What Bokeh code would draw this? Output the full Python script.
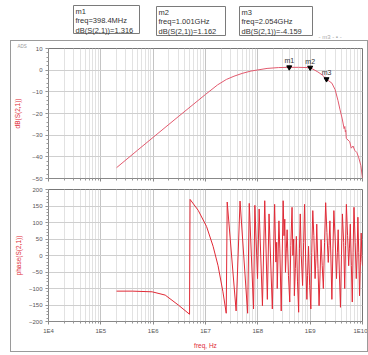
from bokeh.plotting import figure
from bokeh.layouts import column
from bokeh.models import FixedTicker, CustomJSTickFormatter
from bokeh.embed import file_html
from bokeh.resources import INLINE
from bokeh.core.properties import value

# ---- data ----
mag_freq = [2e5, 5e5, 1e6, 3e6, 1e7, 1.7e7, 2.5e7, 3.5e7, 5e7, 7.4e7, 1.5e8, 2.5e8,
            3.984e8, 6e8, 1.001e9, 1.4e9, 1.7e9, 2.054e9, 2.6e9, 3.0e9, 3.4e9, 3.7e9,
            4.1e9, 4.45e9, 4.6e9, 4.7e9, 4.8e9, 4.9e9, 5.7e9, 6.1e9, 6.6e9, 7.1e9,
            7.8e9, 8.5e9, 9.3e9, 1e10]
mag_db = [-45, -37, -31, -21.5, -11.2, -6.8, -4.3, -2.8, -1.5, -0.4, 0.8, 1.2,
          1.316, 1.3, 1.162, -0.8, -2.2, -4.159, -6, -9, -14, -18,
          -22.5, -27, -26, -28.5, -27.8, -31.5, -33, -36, -35, -37,
          -38, -40.5, -44, -50]

phase_exp = [5.30, 5.60, 5.98, 6.23, 6.48, 6.695, 6.705, 6.86, 7.02, 7.145,
             7.24, 7.333, 7.396, 7.415, 7.585, 7.660, 7.805, 7.836, 7.918, 7.943,
             7.994, 8.025, 8.088, 8.132, 8.182, 8.214, 8.277, 8.321, 8.345, 8.360,
             8.371, 8.403, 8.420, 8.447, 8.484, 8.500, 8.515, 8.528, 8.545, 8.560,
             8.585, 8.610, 8.630, 8.654, 8.670, 8.685, 8.698, 8.717, 8.736, 8.758,
             8.780, 8.795, 8.811, 8.830, 8.855, 8.875, 8.893, 8.915, 8.937, 8.950,
             8.969, 8.990, 9.013, 9.030, 9.050, 9.070, 9.094, 9.110, 9.126, 9.150,
             9.170, 9.190, 9.208, 9.230, 9.252, 9.275, 9.296, 9.320, 9.346, 9.360,
             9.377, 9.395, 9.415, 9.435, 9.453, 9.478, 9.503, 9.520, 9.535, 9.557,
             9.579, 9.598, 9.616, 9.640, 9.660, 9.676, 9.692, 9.715, 9.736, 9.750,
             9.767, 9.787, 9.805, 9.820, 9.837, 9.860, 9.881, 9.896, 9.912, 9.928,
             9.943, 9.960, 9.975, 9.990, 10.0]
phase_deg = [-108, -108, -110, -120, -150, -178, 170, 137, 88, 28,
             -31, -110, -175, 162, -168, 165, -175, 158, -162, 152,
             -70, 141, -152, 166, -133, 126, -162, 155, -20, 40,
             -100, 105, 20, -168, 166, 60, 110, -51, 20, 78,
             -60, -141, 30, 146, 0, 50, -122, -40, 58, -80,
             -172, 20, 126, 0, -91, 40, 155, -20, -133, -60,
             28, -90, -162, 10, 136, 60, -70, -10, 95, -40,
             -152, -50, 48, -30, -100, 40, 160, 70, -21, 30,
             105, 0, -133, 20, 136, 50, -70, 10, 78, -50,
             -157, 0, 126, 40, -100, 30, 155, 60, -31, 20,
             95, -30, -141, 10, 146, 40, -70, 0, 116, 10,
             -122, -20, 68, -10, -31]
phase_freq = [10 ** e for e in phase_exp]

marker_names = ["m1", "m2", "m3"]
marker_freq = [3.984e8, 1.001e9, 2.054e9]
marker_freq_text = ["398.4MHz", "1.001GHz", "2.054GHz"]
marker_db = [1.316, 1.162, -4.159]

db_ticks = [-50, -40, -30, -20, -10, 0, 10]
phase_ticks = [-200, -150, -100, -50, 0, 50, 100, 150, 200]

FONT = "Liberation Sans"
GRAY_TXT = "#555555"
RED = "#e02a36"

# log ticks
decades = [10 ** k for k in range(4, 11)]
minor = [m * 10 ** k for k in range(4, 10) for m in range(2, 10)]
fmt = CustomJSTickFormatter(code="return '1E' + Math.round(Math.log10(tick));")
blank = CustomJSTickFormatter(code="return '';")

# ---- header with marker readouts ----
hdr = figure(width=368, height=40, x_range=(0, 368), y_range=(40, 0),
             toolbar_location=None, output_backend="svg", min_border=0)
hdr.axis.visible = False
hdr.grid.visible = False
hdr.outline_line_color = None
box_left = [73, 156, 239]
box_w = [66, 69, 73]
box_top = [5, 6, 6]
hdr.quad(left=box_left, right=[l + w for l, w in zip(box_left, box_w)],
         top=box_top, bottom=[33, 35, 35], fill_color="white",
         line_color="#7a7a7a", line_width=1)
lines_x, lines_y, lines_t = [], [], []
for i, n in enumerate(marker_names):
    for j, t in enumerate([n, "freq=" + marker_freq_text[i],
                           "dB(S(2,1))=%.3f" % marker_db[i]]):
        lines_x.append(box_left[i] + 2)
        lines_y.append(box_top[i] + 1 + j * 9.5)
        lines_t.append(t)
hdr.text(x=lines_x, y=lines_y, text=lines_t, text_font=value(FONT),
         text_font_size="7.5px", text_color="#333333", text_baseline="top",
         text_align="left")
hdr.text(x=[318], y=[39], text=["-  m3  -  \u25aa  -"], text_font=value(FONT),
         text_font_size="6px", text_color="#aaaaaa", text_baseline="bottom",
         text_align="left")


def style(p, ylab, standoff):
    p.outline_line_color = "#777777"
    p.background_fill_color = "white"
    p.border_fill_color = "white"
    for ax in (p.xaxis[0], p.yaxis[0]):
        ax.axis_line_color = "#888888"
        ax.major_tick_line_color = "#888888"
        ax.minor_tick_line_color = "#999999"
        ax.major_tick_out = 3
        ax.major_tick_in = 0
        ax.minor_tick_out = 2
        ax.minor_tick_in = 0
        ax.major_label_text_font = FONT
        ax.major_label_text_font_size = "6px"
        ax.major_label_text_color = GRAY_TXT
        ax.major_label_standoff = 3
        ax.axis_label_text_font = FONT
        ax.axis_label_text_font_size = "6.5px"
        ax.axis_label_text_font_style = "normal"
        ax.axis_label_text_color = RED
    p.yaxis.axis_label = ylab
    p.yaxis.axis_label_standoff = standoff
    xt = FixedTicker(ticks=decades, minor_ticks=minor)
    p.xaxis.ticker = xt
    p.xgrid.ticker = xt
    p.xgrid.grid_line_color = "#c4c4c4"
    p.xgrid.minor_grid_line_color = "#e2e2e2"
    p.ygrid.grid_line_color = "#cfcfcf"


# ---- upper plot: magnitude ----
p1 = figure(width=356, height=142, x_axis_type="log", x_range=(1e4, 1e10),
            y_range=(-50, 10), toolbar_location=None, output_backend="svg",
            min_border_left=34, min_border_right=5, min_border_top=7,
            min_border_bottom=5, title="ADS")
p1.title.align = "left"
p1.title.offset = -31
p1.title.standoff = 0
p1.title.text_font = FONT
p1.title.text_font_size = "4.5px"
p1.title.text_font_style = "normal"
p1.title.text_color = "#999999"
style(p1, "dB(S(2,1))", 8)
yt1 = FixedTicker(ticks=db_ticks, minor_ticks=list(range(-50, 11, 2)))
p1.yaxis.ticker = yt1
p1.ygrid.ticker = yt1
p1.xaxis.formatter = blank
p1.xaxis.major_label_standoff = 0
p1.line(mag_freq, mag_db, line_color="#e25a6e", line_width=1)
p1.scatter(marker_freq, marker_db, marker="inverted_triangle", size=5,
           color="black")
p1.text(x=marker_freq, y=marker_db, text=marker_names, y_offset=-3,
        text_font=value(FONT), text_font_size="7px", text_color="#333333",
        text_baseline="bottom", text_align="center")

# ---- lower plot: phase ----
p2 = figure(width=356, height=168, x_axis_type="log", x_range=(1e4, 1e10),
            y_range=(-200, 200), toolbar_location=None, output_backend="svg",
            min_border_left=34, min_border_right=5, min_border_top=6,
            min_border_bottom=28)
style(p2, "phase(S(2,1))", 4)
yt2 = FixedTicker(ticks=phase_ticks, minor_ticks=list(range(-200, 201, 10)))
p2.yaxis.ticker = yt2
p2.ygrid.ticker = yt2
p2.xaxis.formatter = fmt
p2.xaxis.axis_label = "freq, Hz"
p2.xaxis.axis_label_standoff = 5
p2.line(phase_freq, phase_deg, line_color=RED, line_width=1)

body = column(p1, p2, margin=(0, 0, 0, 10),
              styles={"border": "1px solid #9a9a9a"})
page = column(hdr, body)

open("out.html", "w").write(file_html(page, INLINE))
